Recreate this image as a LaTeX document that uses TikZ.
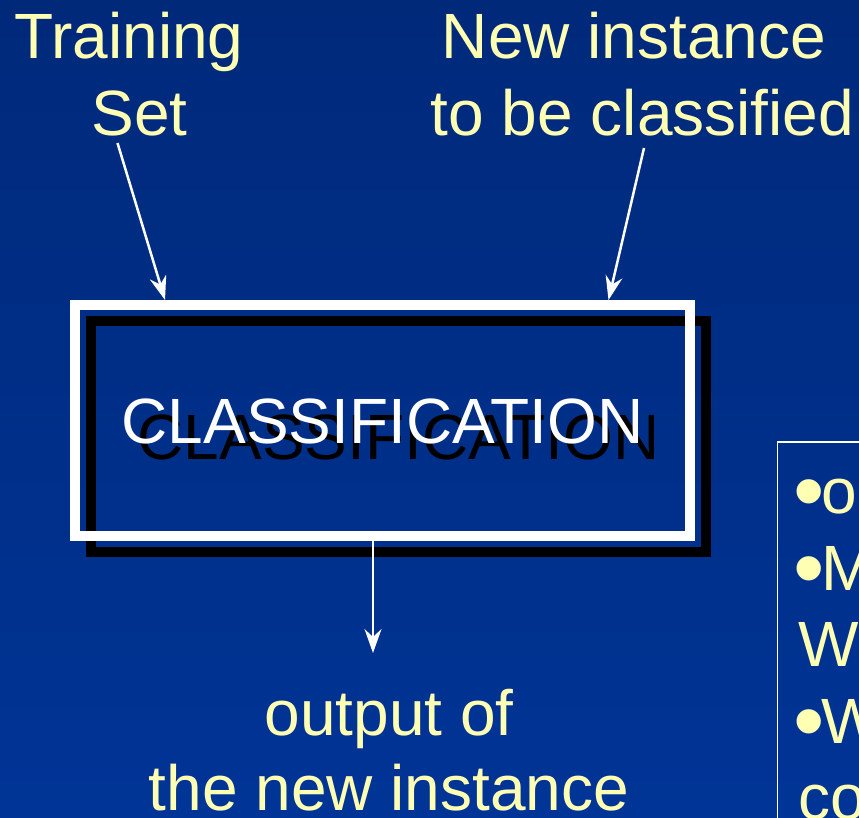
\documentclass[tikz,border=0pt]{standalone}
\usepackage{fontspec}
\setmainfont{Liberation Sans}
\usetikzlibrary{arrows.meta}
\definecolor{slidetop}{RGB}{0,41,122}
\definecolor{slidebottom}{RGB}{0,52,150}
\definecolor{caption}{RGB}{255,255,180}
% enlarged list bullet, kept on the text's centre line
\newcommand\panelbullet{\makebox[23pt][l]{\hspace{-5pt}\raisebox{-8.5pt}{\scalebox{1.4}{•}}}}
\begin{document}
\begin{tikzpicture}[x=1pt,y=-1pt,
  every node/.style={inner sep=0pt, outer sep=0pt},
  txt/.style={text=caption, font=\fontsize{64pt}{77pt}\selectfont},
  arr/.style={draw=white, line width=2.5pt, -{Stealth[length=24pt,width=17pt,inset=8pt]}},
  frame/.style={draw=#1, line width=10pt, minimum width=615pt, minimum height=231pt}]
\useasboundingbox (0,0) rectangle (859,818);
\clip (0,0) rectangle (859,818);
% slide background
\shade[top color=slidetop, bottom color=slidebottom] (0,0) rectangle (859,818);

% captions
\node[txt, anchor=base] (train) at (129,59) {Training};
\node[txt, anchor=base] (set) at (139.5,136) {Set};
\node[txt, anchor=base] (new) at (634,59) {New instance};
\node[txt, anchor=base] (tobe) at (642.5,136) {to be classified};
\node[txt, anchor=base] (out) at (389,735) {output of};
\node[txt, anchor=base] (newinst) at (389,810) {the new instance};

% classifier box with its drop shadow
\node[frame=black] (shadowbox) at (398.5,436.5) {};
\node[txt, text=black] (shadowlabel) at (398.5,437) {CLASSIFICATION};
\node[frame=white] (box) at (382.5,420.5) {};
\node[txt, text=white] (label) at (382.5,421) {CLASSIFICATION};

% connectors
\coordinate (trainfoot) at (117.5,143);
\coordinate (trainhit) at (165,300);
\coordinate (newfoot) at (644,148);
\coordinate (newhit) at (608.5,300);
\coordinate (outtop) at (373,536);
\coordinate (outhit) at (373,653);
\draw[arr] (trainfoot) -- (trainhit);
\draw[arr] (newfoot) -- (newhit);
\draw[arr] (outtop) -- (outhit);

% side panel
\draw[white, line width=1.5pt] (777.5,442) rectangle (880,840);
\node[txt, anchor=base west] (p1) at (798,513) {\panelbullet o};
\node[txt, anchor=base west] (p2) at (798,590) {\panelbullet M};
\node[txt, anchor=base west] (p3) at (798,666) {W};
\node[txt, anchor=base west] (p4) at (798,743) {\panelbullet W};
\node[txt, anchor=base west] (p5) at (798,819) {co};
\end{tikzpicture}
\end{document}
